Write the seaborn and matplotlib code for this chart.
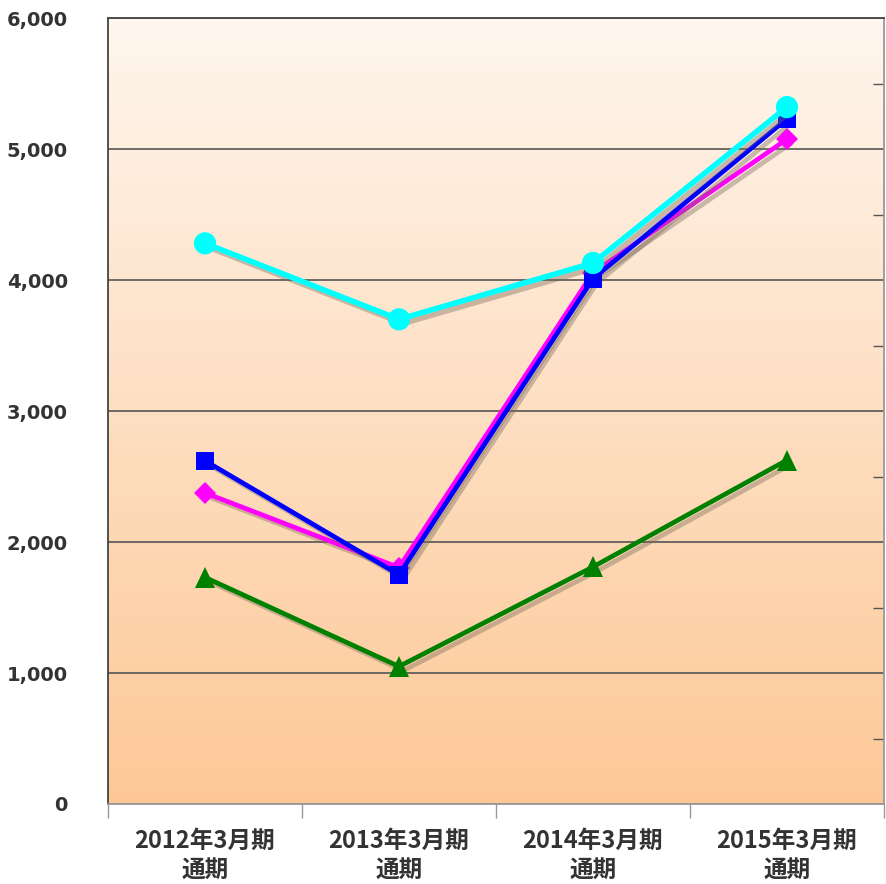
import numpy as np
import pandas as pd
import matplotlib.pyplot as plt
import matplotlib.patheffects as pe
import matplotlib.ticker as mticker
import seaborn as sns

sns.set_theme(style="white")
plt.rcParams["font.family"] = ["Noto Sans CJK JP", "DejaVu Sans"]

periods = ["2012年3月期\n通期", "2013年3月期\n通期", "2014年3月期\n通期", "2015年3月期\n通期"]
green_vals = [1730, 1050, 1810, 2625]
magenta_vals = [2375, 1805, 4055, 5075]
blue_vals = [2620, 1750, 4010, 5230]
cyan_vals = [4280, 3700, 4130, 5320]

SERIES = [
    ("green", green_vals, "#008000", "^", 15, 3.4),
    ("magenta", magenta_vals, "#FF00FF", "D", 11, 3.4),
    ("blue", blue_vals, "#0000FF", "s", 13, 3.4),
    ("cyan", cyan_vals, "#00FFFF", "o", 16, 4.0),
]

rows = []
for name, vals, *_ in SERIES:
    for i, v in enumerate(vals):
        rows.append({"series": name, "x": i, "value": v})
df = pd.DataFrame(rows)

fig = plt.figure(figsize=(8.86, 8.84), dpi=100)
ax = fig.add_axes([0.1219, 0.0905, 0.8758, 0.8891])

# vertical gradient background: cream at top, orange at bottom
top = np.array([255, 246, 238]) / 255
bot = np.array([253, 200, 150]) / 255
t = np.linspace(0, 1, 256)[:, None]
grad = (top * (1 - t) + bot * t)[:, None, :]
ax.imshow(grad, extent=[0, 1, 0, 1], transform=ax.transAxes, aspect="auto", zorder=0)

shadow = [pe.SimpleLineShadow(offset=(3, -3), shadow_color="#7a6a5a", alpha=0.4), pe.Normal()]
for name, vals, color, marker, ms, lw in SERIES:
    sns.lineplot(data=df[df["series"] == name], x="x", y="value", ax=ax, color=color,
                 marker=marker, markersize=ms, markeredgewidth=0, linewidth=lw,
                 zorder=3, path_effects=shadow)

ax.set_xlim(-0.5, 3.5)
ax.set_ylim(0, 6000)
ax.set_xlabel("")
ax.set_ylabel("")

ax.yaxis.set_major_locator(mticker.MultipleLocator(1000))
ax.yaxis.set_minor_locator(mticker.MultipleLocator(500))
ax.yaxis.set_major_formatter(mticker.FuncFormatter(lambda v, p: f"{int(v):,}"))
ax.grid(axis="y", which="major", color="#555555", linewidth=1.2, zorder=1)
ax.set_axisbelow(True)
ax.tick_params(axis="y", which="major", left=False, labelsize=14, pad=23, labelcolor="#333333")
ax.tick_params(axis="y", which="minor", left=False, right=True, direction="in",
               length=8, width=1, color="#555555")
for lbl in ax.get_yticklabels():
    lbl.set_fontweight("bold")
    lbl.set_family(["DejaVu Sans"])

ax.set_xticks([-0.5, 0.5, 1.5, 2.5, 3.5])
ax.set_xticklabels([])
ax.set_xticks(range(4), minor=True)
ax.set_xticklabels(periods, minor=True, fontsize=17, fontweight="bold", color="#333333",
                   linespacing=1.25)
ax.tick_params(axis="x", which="major", bottom=True, direction="out", length=10, width=1, color="#999999")
ax.tick_params(axis="x", which="minor", bottom=False, pad=14)

for side in ["left", "top"]:
    ax.spines[side].set_color("#444444")
    ax.spines[side].set_linewidth(1.3)
for side in ["right", "bottom"]:
    ax.spines[side].set_color("#999999")
    ax.spines[side].set_linewidth(1.3)

fig.savefig("out.png", dpi=100)
